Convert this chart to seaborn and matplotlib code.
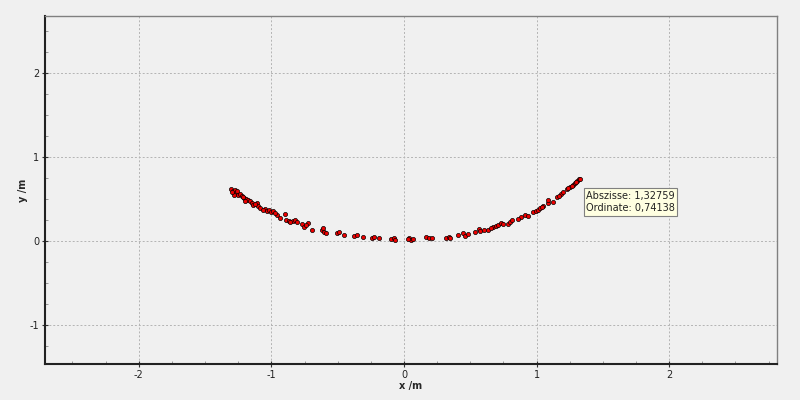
import matplotlib
matplotlib.use("Agg")
import matplotlib.pyplot as plt
from matplotlib.ticker import MultipleLocator
import seaborn as sns
import pandas as pd

x_vals = [-1.305, -1.290, -1.275, -1.267, -1.252, -1.282, -1.237, -1.222, -1.207, -1.192,
          -1.176, -1.161, -1.199, -1.146, -1.139, -1.109, -1.101, -1.086, -1.048, -1.033,
          -1.018, -1.003, -0.988, -0.958, -0.935, -0.897, -0.890, -0.867, -0.837, -0.822,
          -0.807, -0.769, -0.754, -0.724, -0.694, -0.618, -0.611, -0.603, -0.588, -0.505,
          -0.490, -0.452, -0.377, -0.354, -0.309, -0.241, -0.226, -0.189, -0.098, -0.075,
          -0.068, 0.038, 0.053, 0.068, 0.166, 0.189, 0.211, 0.317, 0.339, 0.407,
          0.445, 0.460, 0.483, 0.535, 0.566, 0.573, 0.603, 0.633, 0.671, 0.694,
          0.709, 0.732, 0.747, 0.784, 0.799, 0.814, 0.882, 0.913, 0.935, 0.973,
          0.995, 1.011, 1.026, 1.048, 1.086, 1.086, 1.124, 1.154, 1.184, 1.199,
          1.229, 1.252, 1.274, 1.290, 1.305, 1.320, 1.3276,
          -1.297, -1.260, -1.215, -1.125, -1.060, -0.975, -0.860, -0.740, 0.030, 0.350,
          0.660, 0.860, 1.040, 1.170, 1.240, 1.265, 1.300]
y_vals = [0.619, 0.595, 0.607, 0.571, 0.548, 0.548, 0.560, 0.536, 0.512, 0.500,
          0.488, 0.476, 0.476, 0.452, 0.429, 0.452, 0.417, 0.393, 0.381, 0.357,
          0.369, 0.345, 0.357, 0.310, 0.274, 0.321, 0.250, 0.238, 0.238, 0.250,
          0.226, 0.202, 0.167, 0.214, 0.131, 0.131, 0.155, 0.107, 0.095, 0.095,
          0.107, 0.071, 0.060, 0.071, 0.048, 0.036, 0.048, 0.036, 0.024, 0.036,
          0.012, 0.036, 0.012, 0.024, 0.048, 0.036, 0.036, 0.036, 0.048, 0.071,
          0.095, 0.060, 0.083, 0.107, 0.143, 0.119, 0.131, 0.131, 0.167, 0.179,
          0.190, 0.214, 0.202, 0.202, 0.226, 0.250, 0.286, 0.310, 0.298, 0.345,
          0.357, 0.369, 0.393, 0.417, 0.452, 0.488, 0.464, 0.524, 0.560, 0.583,
          0.619, 0.643, 0.667, 0.690, 0.714, 0.738, 0.7414,
          0.585, 0.590, 0.520, 0.440, 0.370, 0.330, 0.225, 0.190, 0.024, 0.040,
          0.155, 0.265, 0.405, 0.540, 0.630, 0.655, 0.700]

df = pd.DataFrame({"x": x_vals, "y": y_vals})

sns.set_theme(style="white")
plt.rcParams['font.family'] = ['DejaVu Sans']
plt.rcParams['axes.unicode_minus'] = False

bg = "#f0f0f0"
fig = plt.figure(figsize=(8, 4), dpi=100, facecolor=bg)
ax = fig.add_axes([0.05625, 0.09, 0.915, 0.87])
ax.set_facecolor(bg)

sns.scatterplot(data=df, x="x", y="y", ax=ax, color="#ee0000", edgecolor="#000000",
                linewidth=0.5, s=9, zorder=3, legend=False)

ax.set_xlim(-2.707, 2.813)
ax.set_ylim(-1.464, 2.679)
ax.xaxis.set_major_locator(MultipleLocator(1))
ax.yaxis.set_major_locator(MultipleLocator(1))
ax.xaxis.set_minor_locator(MultipleLocator(0.25))
ax.yaxis.set_minor_locator(MultipleLocator(0.25))
ax.grid(True, which="major", color="#b4b4b4", linestyle=(0, (2, 2)), linewidth=0.7)

ax.tick_params(axis="both", which="major", direction="inout", length=4, width=0.8,
               labelsize=7, pad=2, colors="#333333", labelcolor="#222222")
ax.tick_params(axis="both", which="minor", direction="in", length=2.5, width=0.6,
               colors="#888888")
ax.tick_params(left=True, bottom=True, which="both")

for side in ["left", "bottom"]:
    ax.spines[side].set_color("#222222")
    ax.spines[side].set_linewidth(1.5)
for side in ["top", "right"]:
    ax.spines[side].set_color("#808080")
    ax.spines[side].set_linewidth(1.0)

ax.set_xlabel("x /m", fontsize=7, fontweight="bold", labelpad=1)
ax.set_ylabel("y /m", fontsize=7, fontweight="bold", labelpad=1)

ax.annotate("Abszisse: 1,32759\nOrdinate: 0,74138", xy=(1.3276, 0.7414),
            xytext=(6, -12), textcoords="offset pixels", ha="left", va="top",
            fontsize=7, color="#222222", linespacing=1.3,
            bbox=dict(boxstyle="square,pad=0.25", facecolor="#ffffe1",
                      edgecolor="#808080", linewidth=0.8), zorder=5)

fig.savefig("out.png", dpi=100, facecolor=bg)
